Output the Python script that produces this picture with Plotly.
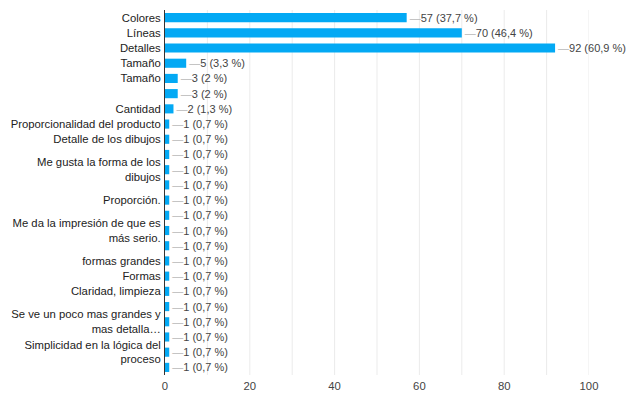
import plotly.graph_objects as go

labels = [
    "Colores", "Líneas", "Detalles", "Tamaño", "Tamaño", "", "Cantidad",
    "Proporcionalidad del producto", "Detalle de los dibujos", "",
    "Me gusta la forma de los<br>dibujos", "", "Proporción.", "",
    "Me da la impresión de que es<br>más serio.", "", "formas grandes", "Formas",
    "Claridad, limpieza", "", "Se ve un poco mas grandes y<br>mas detalla…", "",
    "Simplicidad en la lógica del<br>proceso", "",
]
values = [57, 70, 92, 5, 3, 3, 2] + [1] * 17
percents = ["37,7", "46,4", "60,9", "3,3", "2", "2", "1,3"] + ["0,7"] * 17

positions = list(range(len(values)))
texts = [f"<span style='color:#b7b7b7'>—</span>{v} ({p} %)" for v, p in zip(values, percents)]

fig = go.Figure(
    go.Bar(
        x=values,
        y=positions,
        orientation="h",
        marker=dict(color="#03a9f4", line=dict(width=0)),
        text=texts,
        textposition="outside",
        constraintext="none",
        textfont=dict(family="Liberation Sans, Arial", size=11, color="#444444"),
        cliponaxis=False,
        hoverinfo="skip",
    )
)

fig.update_layout(
    width=626,
    height=394,
    margin=dict(l=165, r=37, t=10, b=19),
    paper_bgcolor="white",
    plot_bgcolor="white",
    bargap=0.4,
    showlegend=False,
    font=dict(family="Liberation Sans, Arial", size=11.3, color="#333333"),
    xaxis=dict(
        range=[0, 100],
        tickvals=[0, 20, 40, 60, 80, 100],
        showgrid=False,
        zeroline=False,
        showline=False,
        ticks="",
        automargin=False,
        ticklabelstandoff=3,
        tickfont=dict(size=11.3, color="#444444"),
    ),
    yaxis=dict(
        range=[len(values) - 0.5, -0.5],
        tickvals=positions,
        ticktext=labels,
        showgrid=False,
        zeroline=False,
        showline=True,
        linecolor="#333333",
        linewidth=1,
        ticks="",
        automargin=False,
        ticklabelstandoff=1,
        tickfont=dict(size=11.3, color="#222222"),
    ),
)

# light vertical gridlines every 10
for gx in range(10, 101, 10):
    fig.add_shape(type="line", xref="x", yref="paper", x0=gx, x1=gx, y0=0, y1=1,
                  line=dict(color="#ebebeb", width=1), layer="below")

fig.write_html("out.html")
